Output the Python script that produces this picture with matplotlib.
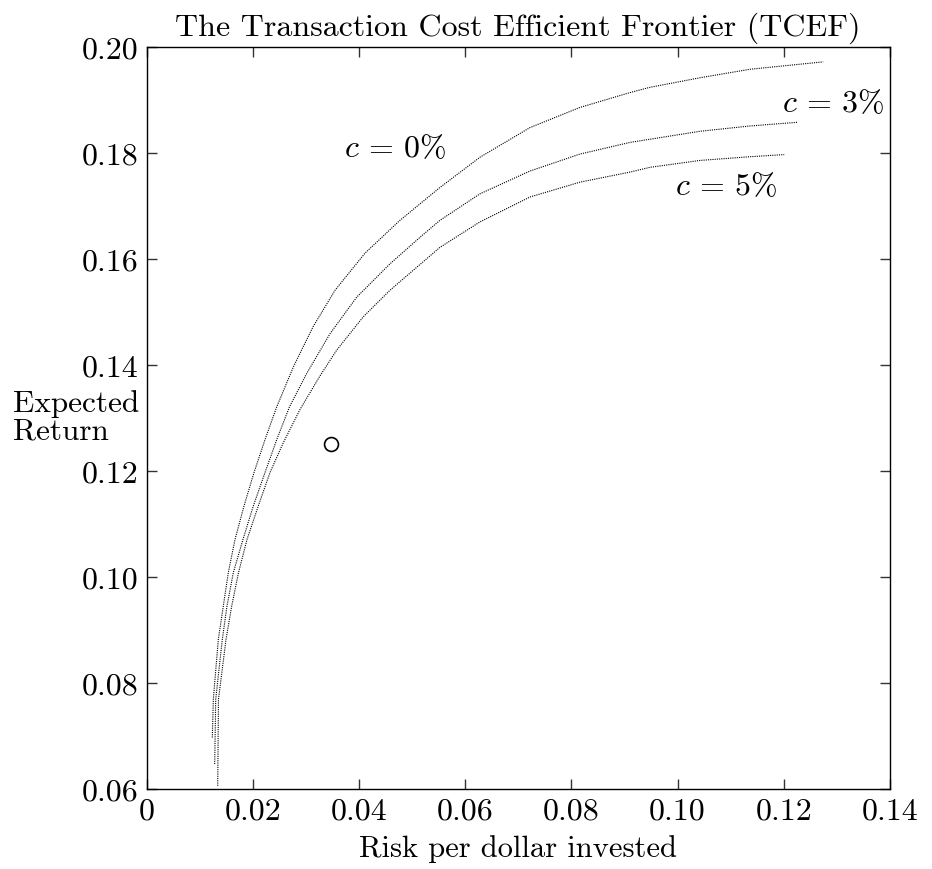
import matplotlib
matplotlib.use("Agg")
import matplotlib.pyplot as plt

plt.rcParams["font.family"] = ["cmr10", "DejaVu Serif"]
plt.rcParams["mathtext.fontset"] = "cm"
plt.rcParams["axes.formatter.use_mathtext"] = True

# frontier curves (risk, expected return)
risk_c0 = [0.01239, 0.01258, 0.01352, 0.01446, 0.01540, 0.01667, 0.01836, 0.02024,
           0.02231, 0.02452, 0.02768, 0.03135, 0.03550, 0.04114, 0.04773, 0.05526,
           0.06279, 0.07221, 0.08162, 0.09104, 0.09481, 0.10422, 0.11363, 0.12743]
ret_c0 = [0.0697, 0.0769, 0.0882, 0.0945, 0.1008, 0.1071, 0.1134, 0.1197,
          0.1259, 0.1321, 0.1397, 0.1472, 0.1541, 0.1611, 0.1673, 0.1735,
          0.1792, 0.1848, 0.1886, 0.1914, 0.1924, 0.1942, 0.1958, 0.1972]

risk_c3 = [0.01284, 0.01303, 0.01427, 0.01515, 0.01634, 0.01817, 0.02011, 0.02231,
           0.02452, 0.02692, 0.03016, 0.03455, 0.03958, 0.04586, 0.05150, 0.05526,
           0.06279, 0.07221, 0.08162, 0.09104, 0.09481, 0.10422, 0.11363, 0.12261]
ret_c3 = [0.0647, 0.0769, 0.0882, 0.0945, 0.1008, 0.1071, 0.1134, 0.1197,
          0.1259, 0.1321, 0.1384, 0.1459, 0.1528, 0.1591, 0.1641, 0.1673,
          0.1723, 0.1766, 0.1798, 0.1820, 0.1826, 0.1841, 0.1851, 0.1858]

risk_c5 = [0.01341, 0.01355, 0.01497, 0.01604, 0.01732, 0.01893, 0.02105, 0.02325,
           0.02574, 0.02890, 0.03264, 0.03581, 0.04082, 0.04584, 0.05526, 0.06279,
           0.07221, 0.08162, 0.09104, 0.09481, 0.10422, 0.11363, 0.12009]
ret_c5 = [0.0606, 0.0769, 0.0882, 0.0945, 0.1008, 0.1071, 0.1134, 0.1197,
          0.1253, 0.1316, 0.1379, 0.1428, 0.1491, 0.1541, 0.1622, 0.1670,
          0.1717, 0.1745, 0.1764, 0.1773, 0.1786, 0.1793, 0.1797]

# current portfolio
point_risk = [0.0347]
point_ret = [0.125]

curve_labels = [r"$c\,=\,0\%$", r"$c\,=\,3\%$", r"$c\,=\,5\%$"]
label_pos = [(0.0372, 0.1811), (0.1197, 0.1895), (0.0996, 0.1738)]

xticks = [0, 0.02, 0.04, 0.06, 0.08, 0.10, 0.12, 0.14]
xticklabels = ["0", "0.02", "0.04", "0.06", "0.08", "0.10", "0.12", "0.14"]
yticks = [0.06, 0.08, 0.10, 0.12, 0.14, 0.16, 0.18, 0.20]
yticklabels = ["0.06", "0.08", "0.10", "0.12", "0.14", "0.16", "0.18", "0.20"]

fig = plt.figure(figsize=(9.32, 8.70), dpi=100)
ax = fig.add_axes([0.1572, 0.0920, 0.7977, 0.8528])

for xs, ys in [(risk_c0, ret_c0), (risk_c3, ret_c3), (risk_c5, ret_c5)]:
    ax.plot(xs, ys, color="black", linestyle=(0, (1, 1)), linewidth=0.8)

ax.plot(point_risk, point_ret, marker="o", markersize=10, markerfacecolor="white",
        markeredgecolor="black", markeredgewidth=1.2, linestyle="none")

for txt, (tx, ty) in zip(curve_labels, label_pos):
    ax.text(tx, ty, txt, fontsize=23, ha="left", va="center")

ax.set_xlim(0, 0.14)
ax.set_ylim(0.06, 0.20)
ax.set_xticks(xticks)
ax.set_xticklabels(xticklabels)
ax.set_yticks(yticks)
ax.set_yticklabels(yticklabels)
ax.tick_params(direction="in", length=7.5, width=1.0, color="#333333",
               top=True, right=True, labelsize=23, pad=6)
for sp in ax.spines.values():
    sp.set_linewidth(1.0)

ax.set_title("The Transaction Cost Efficient Frontier (TCEF)", fontsize=23, pad=9)
ax.set_xlabel("Risk per dollar invested", fontsize=22, labelpad=7)
fig.text(13 / 932, 1 - 418 / 870, "Expected\nReturn", fontsize=22.5,
         ha="left", va="center", linespacing=1.0)

fig.savefig("out.png", dpi=100)
